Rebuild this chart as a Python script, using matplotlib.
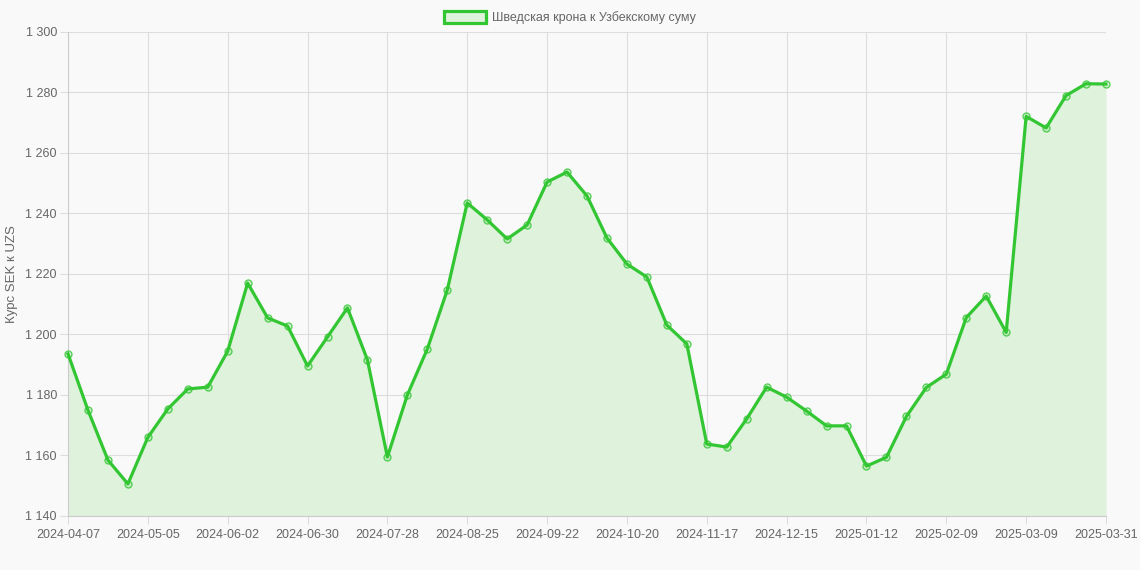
import numpy as np
import pandas as pd
import matplotlib
matplotlib.use("Agg")
import matplotlib.pyplot as plt
from matplotlib.ticker import FuncFormatter

# weekly dates (Sundays) plus the final day of the period
dates = list(pd.date_range("2024-04-07", periods=52, freq="7D").strftime("%Y-%m-%d")) + ["2025-03-31"]

rates = [
    1193.6, 1175.0, 1158.5, 1150.6, 1166.0, 1175.4, 1182.0, 1182.6, 1194.5, 1217.0,
    1205.5, 1202.8, 1189.6, 1199.2, 1208.8, 1191.6, 1159.5, 1180.0, 1195.2, 1214.7,
    1243.5, 1237.9, 1231.6, 1236.2, 1250.4, 1253.7, 1245.8, 1231.9, 1223.3, 1219.0,
    1203.1, 1196.9, 1163.8, 1162.8, 1172.1, 1182.6, 1179.3, 1174.7, 1169.8, 1169.8,
    1156.5, 1159.4, 1172.9, 1182.5, 1186.9, 1205.6, 1212.7, 1200.7, 1272.1, 1268.3,
    1279.0, 1282.9, 1282.8,
]

series_label = "Шведская крона к Узбекскому суму"
y_label = "Курс SEK к UZS"

line_color = "#33c633"
fill_color = "#dff2dc"
bg = "#f9f9f9"
text_color = "#666666"

plt.rcParams["font.family"] = ["Liberation Sans", "DejaVu Sans"]

fig = plt.figure(figsize=(11.4, 5.7), dpi=100, facecolor=bg)
ax = fig.add_axes([68 / 1140, 54 / 570, (1106 - 68) / 1140, (516 - 32) / 570])
ax.set_facecolor(bg)

x = np.arange(len(rates))
ax.fill_between(x, rates, 1140, color=fill_color, zorder=1, linewidth=0)
ax.plot(x, rates, color=line_color, linewidth=2.3, zorder=3, clip_on=False,
        marker="o", markersize=5, markerfacecolor=(0.2, 0.78, 0.2, 0.15),
        markeredgecolor=(0.2, 0.78, 0.2, 0.8), markeredgewidth=1.0,
        label=series_label)

ax.set_xlim(0, len(rates) - 1)
ax.set_ylim(1140, 1300)
ax.set_yticks(np.arange(1140, 1301, 20))
ax.yaxis.set_major_formatter(FuncFormatter(lambda v, p: f"{int(v):,}".replace(",", " ")))

tick_idx = list(range(0, 49, 4)) + [len(dates) - 1]
ax.set_xticks(tick_idx)
ax.set_xticklabels([dates[i] for i in tick_idx])

ax.grid(True, color="#dddddd", linewidth=0.8, zorder=0)
ax.set_axisbelow(True)
for side in ["top", "right"]:
    ax.spines[side].set_visible(False)
for side in ["left", "bottom"]:
    ax.spines[side].set_color("#cccccc")
ax.tick_params(axis="both", colors="#dddddd", labelcolor=text_color, labelsize=9, length=6, width=0.8)
ax.tick_params(axis="y", pad=2)
ax.tick_params(axis="x", pad=3)

fig.text(12 / 1140, (570 - 274) / 570, y_label, rotation=90, color=text_color,
         fontsize=9.5, ha="center", va="center")

leg = fig.legend(handles=[plt.Rectangle((0, 0), 1, 1, facecolor=fill_color, edgecolor=line_color, linewidth=2.3)],
                 labels=[series_label], loc="upper center", bbox_to_anchor=(0.5, 1.0),
                 frameon=False, fontsize=9, handlelength=3.3, handleheight=1.0, handletextpad=0.5,
                 labelcolor=text_color)

fig.savefig("out.png", dpi=100, facecolor=bg)
